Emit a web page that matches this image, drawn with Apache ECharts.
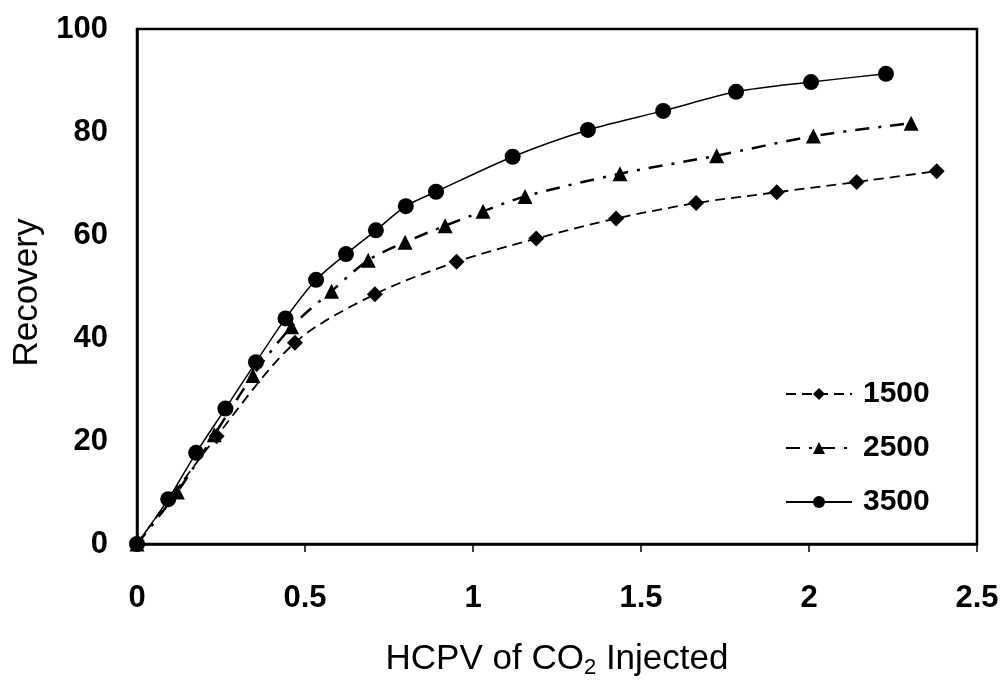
<!DOCTYPE html>
<html>
<head>
<meta charset="utf-8">
<script src="https://cdn.jsdelivr.net/npm/echarts@6/dist/echarts.min.js"></script>
<style>
html,body{margin:0;padding:0;background:#fff;}
#chart{width:1004px;height:684px;}
</style>
</head>
<body>
<div id="chart"></div>
<script>
const seriesNames = ['1500', '2500', '3500'];
const x1500 = [0, 0.237, 0.47, 0.708, 0.951, 1.188, 1.426, 1.664, 1.904, 2.142, 2.38];
const y1500 = [0, 20.9, 39.1, 48.5, 54.8, 59.3, 63.2, 66.2, 68.3, 70.3, 72.4];
const x2500 = [0, 0.12, 0.23, 0.345, 0.46, 0.579, 0.688, 0.798, 0.917, 1.03, 1.155, 1.4375, 1.725, 2.013, 2.304];
const y2500 = [0, 10.1, 21.2, 32.7, 42.2, 49.1, 55.1, 58.6, 61.8, 64.6, 67.5, 71.9, 75.4, 79.2, 81.7];
const x3500 = [0, 0.093, 0.176, 0.263, 0.354, 0.442, 0.533, 0.622, 0.711, 0.80, 0.89, 1.118, 1.342, 1.566, 1.783, 2.006, 2.229];
const y3500 = [0, 8.7, 17.7, 26.3, 35.3, 43.8, 51.3, 56.3, 60.9, 65.6, 68.4, 75.2, 80.4, 84.1, 87.8, 89.7, 91.3];
const xTicks = [0, 0.5, 1, 1.5, 2, 2.5];
const yTicks = [0, 20, 40, 60, 80, 100];

const pair = (xs, ys) => xs.map((x, i) => [x, ys[i]]);
const FONT = '"Liberation Sans", Arial, sans-serif';

const chart = echarts.init(document.getElementById('chart'));
chart.setOption({
  animation: false,
  backgroundColor: '#fff',
  grid: {
    left: 137, top: 29, width: 840, height: 526,
    show: true, borderColor: '#000', borderWidth: 2.5, backgroundColor: 'transparent'
  },
  legend: {
    orient: 'vertical',
    left: 780, top: 374,
    itemWidth: 66, itemHeight: 15, itemGap: 24,
    data: seriesNames,
    textStyle: { fontFamily: FONT, fontSize: 30, fontWeight: 'bold', color: '#000', padding: [0, 0, 0, 6] }
  },
  xAxis: {
    type: 'value', min: xTicks[0], max: xTicks[xTicks.length - 1], interval: 0.5,
    name: '{a|HCPV of CO}{s|2}{a| Injected}',
    nameLocation: 'middle', nameGap: 95,
    nameTextStyle: {
      rich: {
        a: { fontFamily: FONT, fontSize: 35, color: '#000', lineHeight: 40 },
        s: { fontFamily: FONT, fontSize: 22, color: '#000', verticalAlign: 'bottom', padding: [16, 0, 0, 0], lineHeight: 40 }
      }
    },
    axisLine: { lineStyle: { color: '#000', width: 2.5 } },
    axisTick: { show: true, length: 8, lineStyle: { color: '#000', width: 1.5 } },
    axisLabel: { margin: 39, fontFamily: FONT, fontSize: 31, fontWeight: 'bold', color: '#000' },
    splitLine: { show: false }
  },
  yAxis: {
    type: 'value', min: yTicks[0], max: yTicks[yTicks.length - 1], interval: 20,
    name: 'Recovery', nameLocation: 'middle', nameGap: 92,
    nameTextStyle: { fontFamily: FONT, fontSize: 35, color: '#000', padding: [0, 12, 0, 0] },
    axisLine: { lineStyle: { color: '#000', width: 2.5 } },
    axisTick: { show: false },
    axisLabel: { margin: 29, fontFamily: FONT, fontSize: 31, fontWeight: 'bold', color: '#000' },
    splitLine: { show: false }
  },
  series: [
    {
      name: seriesNames[0], type: 'line', data: pair(x1500, y1500), smooth: 0.3,
      symbol: 'diamond', symbolSize: 16,
      itemStyle: { color: '#000' },
      lineStyle: { color: '#000', width: 1.8, type: [10, 6] }
    },
    {
      name: seriesNames[1], type: 'line', data: pair(x2500, y2500), smooth: 0.3,
      symbol: 'triangle', symbolSize: 15,
      itemStyle: { color: '#000' },
      lineStyle: { color: '#000', width: 2.5, type: [14, 9, 3, 9] }
    },
    {
      name: seriesNames[2], type: 'line', data: pair(x3500, y3500), smooth: 0.3,
      symbol: 'circle', symbolSize: 16,
      itemStyle: { color: '#000' },
      lineStyle: { color: '#000', width: 1.5, type: 'solid' }
    }
  ]
});
</script>
</body>
</html>
